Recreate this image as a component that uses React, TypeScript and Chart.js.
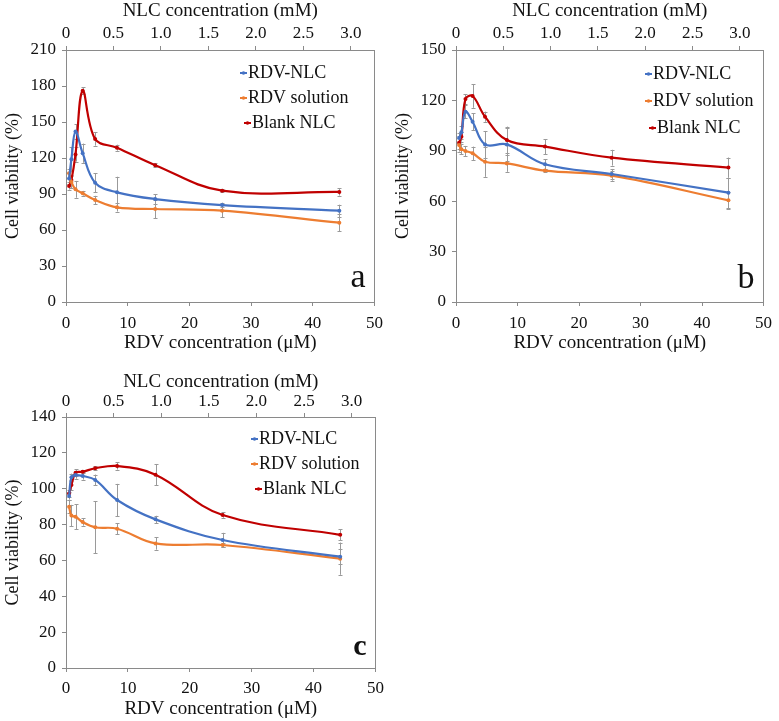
import React, { useEffect, useRef } from 'react';
import { Chart, registerables } from 'chart.js';

Chart.register(...registerables);

// ---------- data ----------
const SERIES_NAMES = ['RDV-NLC', 'RDV solution', 'Blank NLC'];
const SERIES_COLORS = ['#4472C4', '#ED7D31', '#C00000'];
const RDV_CONC = [0.5, 0.88, 1.54, 2.7, 4.72, 8.26, 14.46, 25.3, 44.3];

const RDV_TICK_STEP = 10;
const RDV_MAX = 50;
const NLC_TICK_STEP = 0.5;
const NLC_MAX = 3.25;

// panel a
const A_RDV_NLC = [103, 119, 142, 124, 99.4, 91.4, 85.8, 80.8, 76.1];
const A_RDV_SOL = [107.2, 100, 93.9, 90.6, 85, 78.9, 77.5, 76.1, 66.1];
const A_BLANK = [96.7, 101.7, 123, 176, 135.8, 128.6, 114, 92.8, 91.7];
const A_ERR_RDV_NLC = [5, 10, 6, 8, 8, 13, 4, 2, 5];
const A_ERR_RDV_SOL = [4, 5, 7, 2, 3.5, 3.5, 7.5, 5.5, 7];
const A_ERR_BLANK = [3, 4, 6, 3, 5.5, 2.5, 1.5, 1.5, 3];
const A_Y_MAX = 210;
const A_Y_STEP = 30;

// panel b
const B_RDV_NLC = [97.6, 101, 113.3, 107.3, 93.8, 93.8, 82, 76.2, 65.1];
const B_RDV_SOL = [93.5, 90.9, 89.9, 88.5, 83.5, 82.5, 78.2, 75.2, 60.5];
const B_BLANK = [94.8, 98.4, 120.8, 122.6, 110.3, 96.4, 92.5, 85.9, 80];
const B_ERR_RDV_NLC = [3, 4, 4, 5, 8, 10, 3, 3, 9];
const B_ERR_RDV_SOL = [4, 3, 3, 4, 9, 5, 1, 3, 5];
const B_ERR_BLANK = [4, 3, 3, 7, 3, 8, 4.5, 4.7, 6];
const B_Y_MAX = 150;
const B_Y_STEP = 30;

// panel c
const C_RDV_NLC = [95.9, 106.4, 107.6, 107.1, 104.9, 93.7, 82.9, 71.4, 62.1];
const C_RDV_SOL = [90, 85, 84.4, 81.4, 78.5, 77.7, 69.5, 68.6, 61];
const C_BLANK = [97.4, 102.1, 108.9, 109.5, 111.4, 112.7, 107.8, 85.3, 74.3];
const C_ERR_RDV_NLC = [2, 2, 2, 2, 3, 9, 2, 4, 4];
const C_ERR_RDV_SOL = [3.5, 6, 7, 2, 14.5, 3, 3.5, 1, 9];
const C_ERR_BLANK = [2, 3, 2, 1, 1, 2, 6, 1.5, 3];
const C_Y_MAX = 140;
const C_Y_STEP = 20;

const X_TITLE = 'RDV concentration (μM)';
const X2_TITLE = 'NLC concentration (mM)';
const Y_TITLE = 'Cell viability (%)';

// ---------- style ----------
const FONT = "'Liberation Serif', 'Times New Roman', Times, 'Tinos', 'DejaVu Serif', 'Noto Serif', serif";
const AXIS_COLOR = '#8a8a8a';
const TEXT_COLOR = '#111111';
const ERR_COLOR = '#9a9a9a';

const errorBarPlugin = {
  id: 'errorBars',
  beforeDatasetsDraw(chart: any) {
    const { ctx, scales } = chart;
    const xs = scales.x;
    const ys = scales.y;
    ctx.save();
    ctx.strokeStyle = ERR_COLOR;
    ctx.lineWidth = 1;
    chart.data.datasets.forEach((ds: any) => {
      const errs: number[] = ds.errors || [];
      ds.data.forEach((pt: any, i: number) => {
        const e = errs[i];
        if (!e) return;
        const x = Math.round(xs.getPixelForValue(pt.x)) + 0.5;
        const y1 = ys.getPixelForValue(pt.y + e);
        const y2 = ys.getPixelForValue(pt.y - e);
        ctx.beginPath();
        ctx.moveTo(x, y1);
        ctx.lineTo(x, y2);
        ctx.moveTo(x - 2, Math.round(y1) + 0.5);
        ctx.lineTo(x + 2, Math.round(y1) + 0.5);
        ctx.moveTo(x - 2, Math.round(y2) + 0.5);
        ctx.lineTo(x + 2, Math.round(y2) + 0.5);
        ctx.stroke();
      });
    });
    ctx.restore();
  },
};

const framePlugin = {
  id: 'frameRight',
  beforeDatasetsDraw(chart: any) {
    const { ctx, chartArea } = chart;
    ctx.save();
    ctx.strokeStyle = AXIS_COLOR;
    ctx.lineWidth = 1;
    const x = Math.round(chartArea.right) - 0.5;
    ctx.beginPath();
    ctx.moveTo(x, chartArea.top);
    ctx.lineTo(x, chartArea.bottom);
    ctx.stroke();
    ctx.restore();
  },
};

const innerLegendPlugin = {
  id: 'innerLegend',
  afterDraw(chart: any, _args: any, opts: any) {
    const { ctx, chartArea } = chart;
    ctx.save();
    ctx.font = `${opts.size}px ${FONT}`;
    ctx.textBaseline = 'middle';
    ctx.textAlign = 'left';
    chart.data.datasets.forEach((ds: any, i: number) => {
      const y = chartArea.top + opts.top + i * opts.gap;
      const tx = chartArea.left + opts.left + (opts.shift ? opts.shift[i] : 0);
      ctx.strokeStyle = ds.borderColor;
      ctx.lineWidth = 2;
      ctx.beginPath();
      ctx.moveTo(tx - 8, y);
      ctx.lineTo(tx - 1, y);
      ctx.stroke();
      ctx.fillStyle = ds.borderColor;
      ctx.beginPath();
      ctx.arc(tx - 4.5, y, 1.8, 0, Math.PI * 2);
      ctx.fill();
      ctx.fillStyle = TEXT_COLOR;
      ctx.fillText(ds.label, tx, y);
    });
    ctx.restore();
  },
};

const panelLabelPlugin = {
  id: 'panelLabel',
  afterDraw(chart: any, _args: any, opts: any) {
    const { ctx, chartArea } = chart;
    ctx.save();
    ctx.font = `${opts.weight || 'normal'} ${opts.size}px ${FONT}`;
    ctx.textAlign = 'right';
    ctx.textBaseline = 'alphabetic';
    ctx.fillStyle = TEXT_COLOR;
    ctx.fillText(opts.text, chartArea.right - opts.dx, chartArea.bottom - opts.dy);
    ctx.restore();
  },
};

type PanelCfg = {
  series: number[][];
  errors: number[][];
  yMax: number;
  yStep: number;
  label: string;
  labelSize: number;
  labelWeight: string;
  labelDy: number;
  legendLeft: number;
  legendTop: number;
  legendGap: number;
  width: number;
  height: number;
  topH: number;
  bottomH: number;
  padRight: number;
  x2TitlePad: number;
  x2TickPad: number;
  xTickPad: number;
  xTitlePad: number;
};

function buildConfig(p: PanelCfg): any {
  const gridOpts = {
    display: true,
    drawOnChartArea: false,
    drawTicks: true,
    tickLength: 4,
    color: AXIS_COLOR,
    tickColor: AXIS_COLOR,
  };
  const border = { display: true, color: AXIS_COLOR, width: 1 };
  return {
    type: 'line',
    data: {
      datasets: SERIES_NAMES.map((name, si) => ({
        label: name,
        data: RDV_CONC.map((x, i) => ({ x, y: p.series[si][i] })),
        errors: p.errors[si],
        borderColor: SERIES_COLORS[si],
        backgroundColor: SERIES_COLORS[si],
        borderWidth: 2.2,
        pointRadius: 2,
        pointHoverRadius: 2,
        pointBorderWidth: 0,
        tension: 0.38,
        fill: false,
        xAxisID: 'x',
        yAxisID: 'y',
      })),
    },
    options: {
      animation: false,
      responsive: false,
      events: [],
      layout: { padding: { left: 0, right: p.padRight, top: 0, bottom: 0 } },
      plugins: {
        legend: { display: false },
        tooltip: { enabled: false },
        innerLegend: { size: 18, left: p.legendLeft, top: p.legendTop, gap: p.legendGap, shift: [0, 0, 4] },
        panelLabel: { text: p.label, size: p.labelSize, weight: p.labelWeight, dx: 9, dy: p.labelDy },
      },
      scales: {
        x: {
          type: 'linear',
          position: 'bottom',
          min: 0,
          max: RDV_MAX,
          ticks: {
            stepSize: RDV_TICK_STEP,
            autoSkip: false,
            maxRotation: 0,
            padding: p.xTickPad,
            color: TEXT_COLOR,
            font: { family: FONT, size: 17 },
          },
          grid: gridOpts,
          border,
          title: {
            display: true,
            text: X_TITLE,
            color: TEXT_COLOR,
            font: { family: FONT, size: 19 },
            padding: { top: 0, bottom: p.xTitlePad },
          },
          afterFit: (s: any) => {
            s.height = p.bottomH;
          },
        },
        x2: {
          type: 'linear',
          position: 'top',
          min: 0,
          max: NLC_MAX,
          ticks: {
            stepSize: NLC_TICK_STEP,
            includeBounds: false,
            autoSkip: false,
            maxRotation: 0,
            padding: p.x2TickPad,
            color: TEXT_COLOR,
            font: { family: FONT, size: 17 },
            callback: (v: number) => (v === 0 ? '0' : Number(v).toFixed(1)),
          },
          grid: gridOpts,
          border,
          title: {
            display: true,
            text: X2_TITLE,
            color: TEXT_COLOR,
            font: { family: FONT, size: 19 },
            padding: { top: p.x2TitlePad, bottom: 0 },
          },
          afterFit: (s: any) => {
            s.height = p.topH;
          },
        },
        y: {
          type: 'linear',
          position: 'left',
          min: 0,
          max: p.yMax,
          ticks: {
            stepSize: p.yStep,
            autoSkip: false,
            padding: 6,
            color: TEXT_COLOR,
            font: { family: FONT, size: 17 },
          },
          grid: gridOpts,
          border,
          title: {
            display: true,
            text: Y_TITLE,
            color: TEXT_COLOR,
            font: { family: FONT, size: 18 },
            padding: { top: 2, bottom: 0 },
          },
          afterFit: (s: any) => {
            s.width = 66;
          },
        },
      },
    },
    plugins: [errorBarPlugin, framePlugin, innerLegendPlugin, panelLabelPlugin],
  };
}

const PANEL_A: PanelCfg = {
  series: [A_RDV_NLC, A_RDV_SOL, A_BLANK],
  errors: [A_ERR_RDV_NLC, A_ERR_RDV_SOL, A_ERR_BLANK],
  yMax: A_Y_MAX,
  yStep: A_Y_STEP,
  label: 'a',
  labelSize: 34,
  labelWeight: 'normal',
  labelDy: 15,
  legendLeft: 182,
  legendTop: 23,
  legendGap: 25,
  width: 390,
  height: 360,
  topH: 50,
  bottomH: 58,
  padRight: 12,
  x2TitlePad: 0,
  x2TickPad: 2,
  xTickPad: 7,
  xTitlePad: 6,
};

const PANEL_B: PanelCfg = {
  series: [B_RDV_NLC, B_RDV_SOL, B_BLANK],
  errors: [B_ERR_RDV_NLC, B_ERR_RDV_SOL, B_ERR_BLANK],
  yMax: B_Y_MAX,
  yStep: B_Y_STEP,
  label: 'b',
  labelSize: 34,
  labelWeight: 'normal',
  labelDy: 14,
  legendLeft: 197,
  legendTop: 24,
  legendGap: 27,
  width: 389,
  height: 360,
  topH: 50,
  bottomH: 58,
  padRight: 11,
  x2TitlePad: 0,
  x2TickPad: 2,
  xTickPad: 7,
  xTitlePad: 6,
};

const PANEL_C: PanelCfg = {
  series: [C_RDV_NLC, C_RDV_SOL, C_BLANK],
  errors: [C_ERR_RDV_NLC, C_ERR_RDV_SOL, C_ERR_BLANK],
  yMax: C_Y_MAX,
  yStep: C_Y_STEP,
  label: 'c',
  labelSize: 30,
  labelWeight: 'bold',
  labelDy: 13,
  legendLeft: 193,
  legendTop: 22,
  legendGap: 25,
  width: 390,
  height: 361,
  topH: 57,
  bottomH: 53,
  padRight: 12,
  x2TitlePad: 11,
  x2TickPad: 1,
  xTickPad: 6,
  xTitlePad: 1,
};

function Panel({ cfg, left, top }: { cfg: PanelCfg; left: number; top: number }) {
  const ref = useRef<HTMLCanvasElement | null>(null);
  useEffect(() => {
    if (!ref.current) return;
    const chart = new Chart(ref.current, buildConfig(cfg));
    return () => chart.destroy();
  }, [cfg]);
  return (
    <canvas
      ref={ref}
      width={cfg.width}
      height={cfg.height}
      style={{ position: 'absolute', left, top, width: cfg.width, height: cfg.height }}
    />
  );
}

export default function App() {
  return (
    <div
      style={{
        position: 'absolute',
        left: 0,
        top: 0,
        width: 779,
        height: 721,
        background: '#ffffff',
        overflow: 'hidden',
      }}
    >
      <Panel cfg={PANEL_A} left={0} top={0} />
      <Panel cfg={PANEL_B} left={390} top={0} />
      <Panel cfg={PANEL_C} left={0} top={360} />
    </div>
  );
}
